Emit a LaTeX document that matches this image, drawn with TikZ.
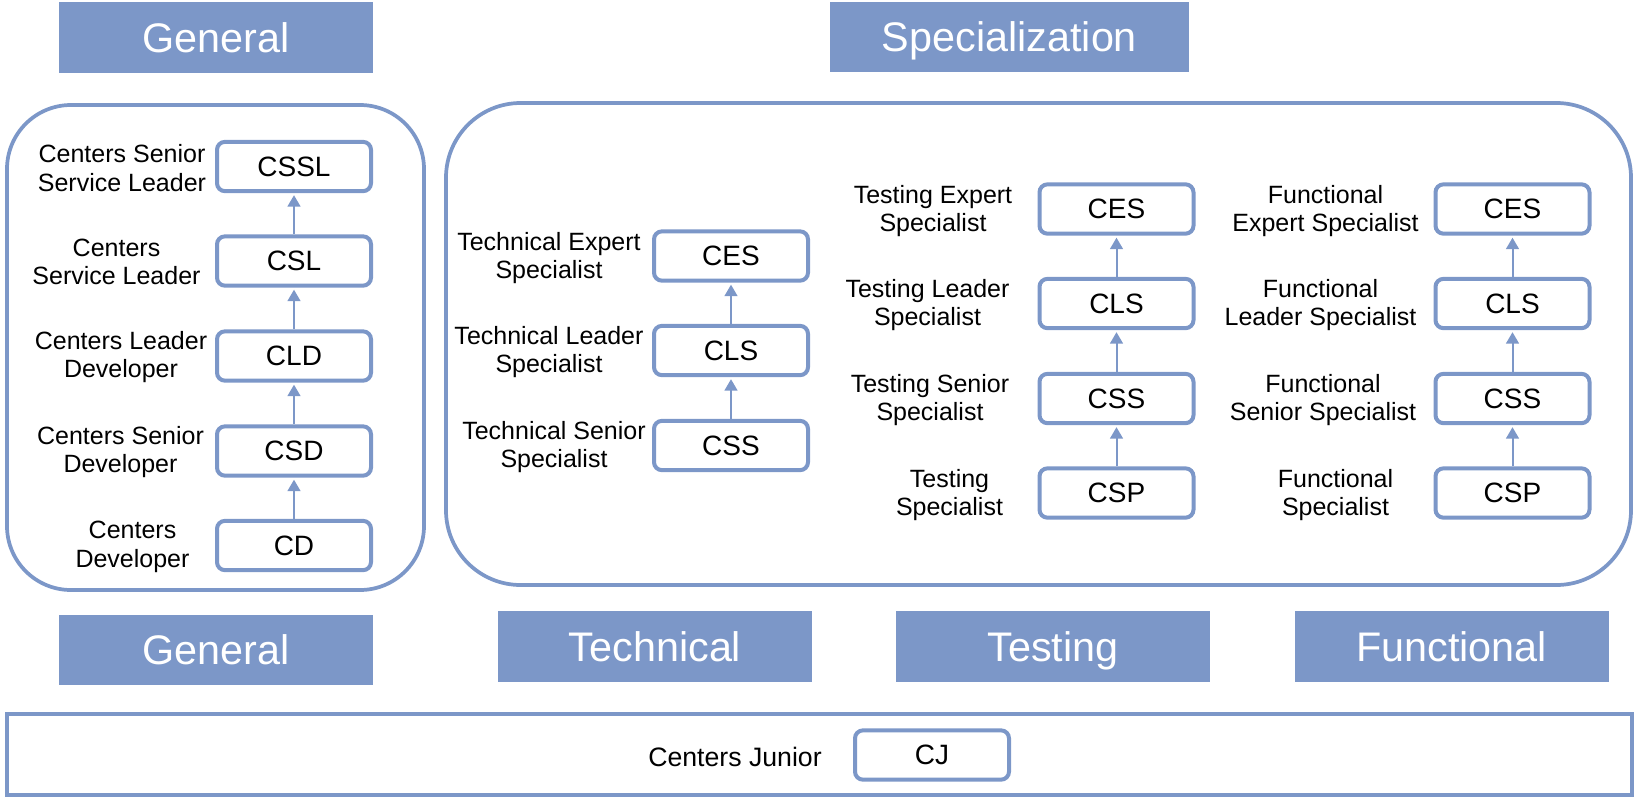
\documentclass[tikz,border=0pt]{standalone}
\usepackage{fontspec}
\setmainfont{Liberation Sans}
\usetikzlibrary{arrows.meta}

\definecolor{tabblue}{RGB}{124,151,200}
\tikzset{every picture/.style={line width=0.75pt}}
\tikzset{
  grade/.style={draw=tabblue, line width=3pt, rounded corners=6pt, fill=white,
    minimum width=115.5pt, minimum height=37pt, inner sep=0pt,
    font=\fontsize{21}{25}\selectfont},
  gradename/.style={align=center, inner sep=0pt, font=\fontsize{18.75}{21.5}\selectfont},
  tab/.style={fill=tabblue, text=white, inner sep=0pt, minimum width=235.5pt,
    minimum height=53pt, text height=22.2pt, text depth=0pt,
    font=\fontsize{31}{37}\selectfont},
  frame/.style={draw=tabblue, line width=2.8pt},
  rise/.style={draw=tabblue, line width=1.5pt, -{Triangle[length=8.5pt,width=9.5pt]}, shorten >=1.5pt}
}

\begin{document}
\begin{tikzpicture}[x=0.75pt,y=0.75pt,yscale=-1,xscale=1]
\useasboundingbox (0,0) rectangle (1636,801);

%Rounded Rect [id:general frame]
\draw [frame, rounded corners=48pt] (7,105) rectangle (424,590);
%Rounded Rect [id:specialization frame]
\draw [frame, rounded corners=56pt] (446,103) rectangle (1631,585);
%Shape: Rectangle [id:junior frame]
\draw [frame] (7,714) rectangle (1632,795);

% Tabs
\node [tab] (tGenTop) at (216,37.5) {General};
\node [tab, minimum width=269pt] (tSpec) at (1009.5,37) {Specialization};
\node [tab] (tGenBot) at (216,650) {General};
\node [tab] (tTech) at (655,646.5) {Technical};
\node [tab] (tTest) at (1053,646.5) {Testing};
\node [tab] (tFunc) at (1451.5,646.5) {Functional};

% General ladder
\node [grade] (gCSSL) at (294,166.5) {CSSL};
\node [grade] (gCSL) at (294,261) {CSL};
\node [grade] (gCLD) at (294,356) {CLD};
\node [grade] (gCSD) at (294,451) {CSD};
\node [grade] (gCD) at (294,545.5) {CD};
\node [gradename] (nCSSL) at (122,168) {Centers Senior\\Service Leader};
\node [gradename] (nCSL) at (116.5,262) {Centers\\Service Leader};
\node [gradename] (nCLD) at (121,357) {Centers Leader\\Developer};
\node [gradename] (nCSD) at (120.5,452) {Centers Senior\\Developer};
\node [gradename] (nCD) at (132.5,547) {Centers\\Developer};

% Technical ladder
\node [grade] (tCES) at (731,256) {CES};
\node [grade] (tCLS) at (731,350.5) {CLS};
\node [grade] (tCSS) at (731,445.5) {CSS};
\node [gradename] (nTCES) at (549,258) {Technical Expert\\Specialist};
\node [gradename] (nTCLS) at (549,352) {Technical Leader\\Specialist};
\node [gradename] (nTCSS) at (554,447) {Technical Senior\\Specialist};

% Testing ladder
\node [grade] (sCES) at (1116.5,209) {CES};
\node [grade] (sCLS) at (1116.5,303.5) {CLS};
\node [grade] (sCSS) at (1116.5,398.5) {CSS};
\node [grade] (sCSP) at (1116.5,493) {CSP};
\node [gradename] (nSCES) at (933,211) {Testing Expert\\Specialist};
\node [gradename] (nSCLS) at (927.5,305) {Testing Leader\\Specialist};
\node [gradename] (nSCSS) at (930,400) {Testing Senior\\Specialist};
\node [gradename] (nSCSP) at (949.5,495) {Testing\\Specialist};

% Functional ladder
\node [grade] (fCES) at (1512.5,209) {CES};
\node [grade] (fCLS) at (1512.5,303.5) {CLS};
\node [grade] (fCSS) at (1512.5,398.5) {CSS};
\node [grade] (fCSP) at (1512.5,493) {CSP};
\node [gradename] (nFCES) at (1325.5,211) {Functional\\Expert Specialist};
\node [gradename] (nFCLS) at (1320.5,305) {Functional\\Leader Specialist};
\node [gradename] (nFCSS) at (1323,400) {Functional\\Senior Specialist};
\node [gradename] (nFCSP) at (1335.5,495) {Functional\\Specialist};

% Junior
\node [grade] (jCJ) at (932,755) {CJ};
\node [gradename, font=\fontsize{20}{24}\selectfont] (nCJ) at (735,757) {Centers Junior};

% Arrows
\draw [rise] (gCD) -- (gCSD);
\draw [rise] (gCSD) -- (gCLD);
\draw [rise] (gCLD) -- (gCSL);
\draw [rise] (gCSL) -- (gCSSL);
\draw [rise] (tCSS) -- (tCLS);
\draw [rise] (tCLS) -- (tCES);
\draw [rise] (sCSP) -- (sCSS);
\draw [rise] (sCSS) -- (sCLS);
\draw [rise] (sCLS) -- (sCES);
\draw [rise] (fCSP) -- (fCSS);
\draw [rise] (fCSS) -- (fCLS);
\draw [rise] (fCLS) -- (fCES);

\end{tikzpicture}
\end{document}
